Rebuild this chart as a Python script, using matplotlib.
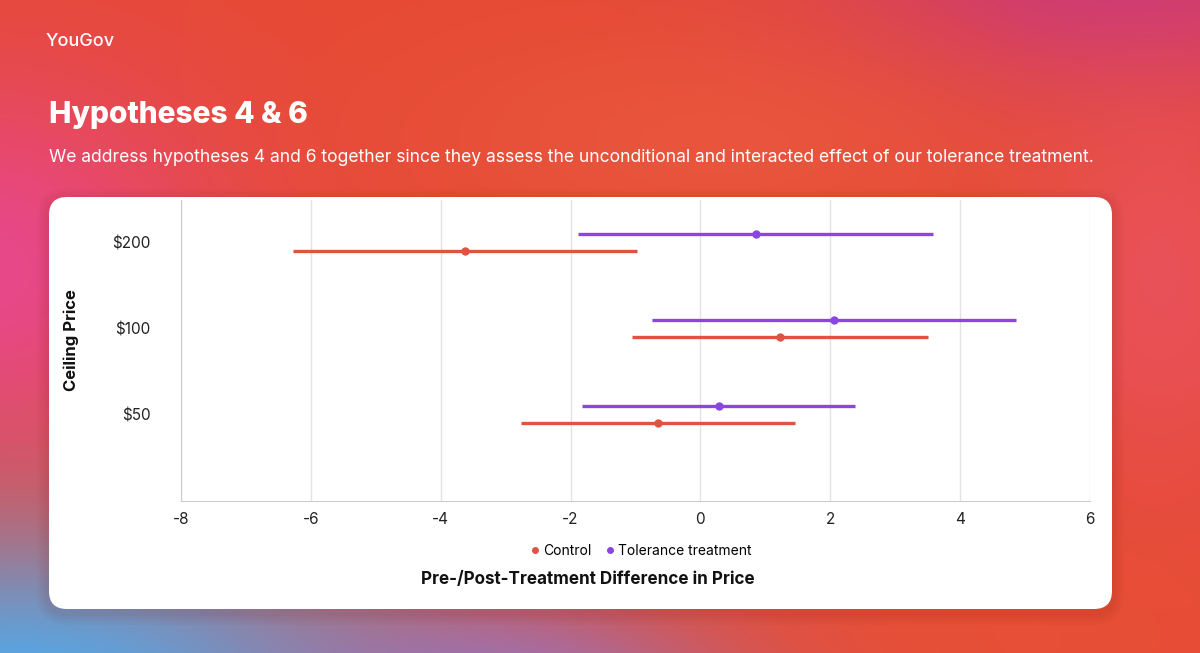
import numpy as np
import matplotlib
matplotlib.use("Agg")
import matplotlib.pyplot as plt
from matplotlib.patches import FancyBboxPatch
from matplotlib.lines import Line2D

plt.rcParams['font.family'] = ['Inter', 'DejaVu Sans']

# data
categories = ['$50', '$100', '$200']
control_mean = [-0.66, 1.22, -3.63]
control_low = [-2.77, -1.06, -6.28]
control_high = [1.46, 3.51, -0.97]
tol_mean = [0.29, 2.05, 0.85]
tol_low = [-1.82, -0.74, -1.88]
tol_high = [2.38, 4.86, 3.58]

x_ticks = [-8, -6, -4, -2, 0, 2, 4, 6]

c_control = '#df5441'
c_tol = '#8a45e2'

W, H = 1200, 653
fig = plt.figure(figsize=(W / 100, H / 100), dpi=100)

# background gradient
bg = fig.add_axes([0, 0, 1, 1])
yy, xx = np.mgrid[0:H, 0:W].astype(float)
img = np.zeros((H, W, 3))
img[:] = np.array([230, 74, 52]) / 255.0


def blob(cx, cy, rx, ry, color, strength=1.0):
    w = np.exp(-(((xx - cx) / rx) ** 2 + ((yy - cy) / ry) ** 2)) * strength
    col = np.array(matplotlib.colors.to_rgb(color))
    return w[..., None], col


for cx, cy, rx, ry, col, s in [
    (-20, 270, 230, 190, '#e8488a', 1.0),
    (20, 690, 420, 170, '#55a8e6', 1.0),
    (520, 700, 220, 90, '#8c78d6', 0.8),
    (1120, -20, 280, 120, '#c9387c', 0.9),
    (1160, 280, 120, 200, '#ea5468', 0.7),
    (720, 140, 300, 120, '#eb5c42', 0.6),
    (1000, 640, 300, 120, '#e95438', 0.5),
]:
    w, c = blob(cx, cy, rx, ry, col, s)
    w = np.clip(w, 0, 1)
    img = img * (1 - w) + c * w

bg.imshow(img, extent=[0, W, H, 0], aspect='auto')
bg.set_xlim(0, W)
bg.set_ylim(H, 0)
bg.axis('off')

# card shadow + card
for i in range(4):
    d = 3 * (i + 1)
    bg.add_patch(FancyBboxPatch((49 - d, 197 - d + 4), 1063 + 2 * d, 412 + 2 * d,
                                boxstyle='round,pad=0,rounding_size=%d' % (18 + d),
                                fc='#7a1a10', ec='none', alpha=0.03))
bg.add_patch(FancyBboxPatch((49, 197), 1063, 412,
                            boxstyle='round,pad=0,rounding_size=18',
                            fc='white', ec='none'))

# header text
bg.text(46, 42, 'YouGov', color='white', fontsize=13, fontweight='medium', va='center', ha='left')
bg.text(49, 115, 'Hypotheses 4 & 6', color='white', fontsize=21.5, fontweight='heavy',
        va='center', ha='left')
bg.text(49, 157, 'We address hypotheses 4 and 6 together since they assess the unconditional and '
        'interacted effect of our tolerance treatment.', color='white', fontsize=12.6,
        va='center', ha='left')

# chart axes
ax = fig.add_axes([181 / W, (H - 501) / H, (1090 - 181) / W, (501 - 200) / H])
ax.set_facecolor('none')
ypos = np.arange(1, len(categories) + 1)
off = 0.099

ax.errorbar(control_mean, ypos - off,
            xerr=[np.array(control_mean) - np.array(control_low),
                  np.array(control_high) - np.array(control_mean)],
            fmt='o', color=c_control, ms=5, elinewidth=2.4, capsize=0, zorder=3)
ax.errorbar(tol_mean, ypos + off,
            xerr=[np.array(tol_mean) - np.array(tol_low),
                  np.array(tol_high) - np.array(tol_mean)],
            fmt='o', color=c_tol, ms=5, elinewidth=2.4, capsize=0, zorder=3)

ax.set_xlim(-8, 6)
ax.set_ylim(0.0, 3.49)
ax.set_xticks(x_ticks)
ax.set_xticklabels([str(t) for t in x_ticks])
ax.set_yticks(ypos)
ax.set_yticklabels(categories)
ax.tick_params(length=0, labelsize=11, colors='#222222')
ax.tick_params(axis='x', pad=8)
ax.tick_params(axis='y', pad=22)
ax.grid(axis='x', color='#e3e3e3', lw=1)
ax.set_axisbelow(True)
for s in ['top', 'right']:
    ax.spines[s].set_visible(False)
for s in ['left', 'bottom']:
    ax.spines[s].set_color('#cccccc')

fig.text(71 / W, 1 - 340 / H, 'Ceiling Price', rotation=90, ha='center', va='center',
         fontsize=12, fontweight='bold', color='#111111')
fig.text(588 / W, 1 - 580 / H, 'Pre-/Post-Treatment Difference in Price', ha='center', va='center',
         fontsize=12.3, fontweight='bold', color='#111111')

handles = [Line2D([], [], ls='none', marker='o', ms=4, color=c_control),
           Line2D([], [], ls='none', marker='o', ms=4, color=c_tol)]
fig.legend(handles, ['Control', 'Tolerance treatment'], loc='center',
           bbox_to_anchor=(640 / W, 1 - 551 / H), ncol=2, frameon=False,
           fontsize=10, handletextpad=0.1, columnspacing=0.8, handlelength=1.0)

fig.savefig('out.png', dpi=100)
